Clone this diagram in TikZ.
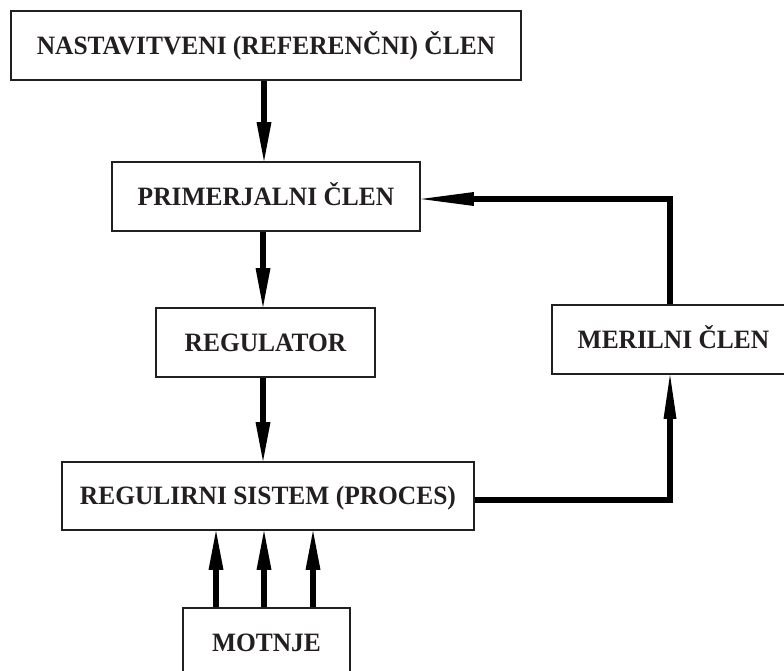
\documentclass[tikz,border=0pt]{standalone}
\usepackage{fontspec}
\setmainfont{Liberation Serif}
\newfontfamily\blokfont[FakeStretch=0.96]{Liberation Serif}
\usetikzlibrary{arrows.meta}
\definecolor{ink}{HTML}{231F20}
\begin{document}
\begin{tikzpicture}[x=1pt,y=-1pt,
  blok/.style={draw=ink, line width=1.8pt, fill=white, minimum height=69pt, inner sep=0pt,
    font=\blokfont\fontsize{26.5}{30}\selectfont\bfseries, text=ink, text height=17.5pt, text depth=0pt},
  tok/.style={line width=6.5pt, draw=black, line join=miter,
    -{Triangle[length=39pt,width=15pt,line width=0pt]}},
  tokfb/.style={line width=6.5pt, draw=black, line join=miter,
    -{Triangle[length=53pt,width=14pt,line width=0pt]}},
  tokup/.style={line width=6.5pt, draw=black, line join=miter,
    -{Triangle[length=44pt,width=13pt,line width=0pt]}},
]
\clip (0,0) rectangle (784,671);
\fill[white] (0,0) rectangle (784,671);

\node[blok, minimum width=510pt] (b1) at (266,45.5) {NASTAVITVENI (REFERENČNI) ČLEN};
\node[blok, minimum width=308pt] (b2) at (266,196.5) {PRIMERJALNI ČLEN};
\node[blok, minimum width=219pt] (b3) at (265.5,342.5) {REGULATOR};
\node[blok, minimum width=243pt] (b4) at (673.5,339.5) {MERILNI ČLEN};
\node[blok, minimum width=412pt, minimum height=68pt] (b5) at (268,496) {REGULIRNI SISTEM (PROCES)};
\node[blok, minimum width=167pt, minimum height=70pt] (b6) at (266.5,643) {MOTNJE};

\draw[tok] ([xshift=-2pt]b1.south) -- ([xshift=-2pt]b2.north);
\draw[tok] ([xshift=-3pt]b2.south) -- ([xshift=-3pt]b2.south |- b3.north);
\draw[tok] ([xshift=-2.5pt]b3.south) -- ([xshift=-2.5pt]b3.south |- b5.north);

\draw[tokup] ([yshift=-4pt]b5.east) -| ([xshift=-3.5pt]b4.south);
\draw[tokfb] ([xshift=-3.5pt]b4.north) |- ([yshift=-2.5pt]b2.east);

\draw[tok] ([xshift=-50.5pt]b6.north) -- ([xshift=-50.5pt]b6.north |- b5.south);
\draw[tok] ([xshift=-2.5pt]b6.north) -- ([xshift=-2.5pt]b6.north |- b5.south);
\draw[tok] ([xshift=46.5pt]b6.north) -- ([xshift=46.5pt]b6.north |- b5.south);
\end{tikzpicture}
\end{document}
